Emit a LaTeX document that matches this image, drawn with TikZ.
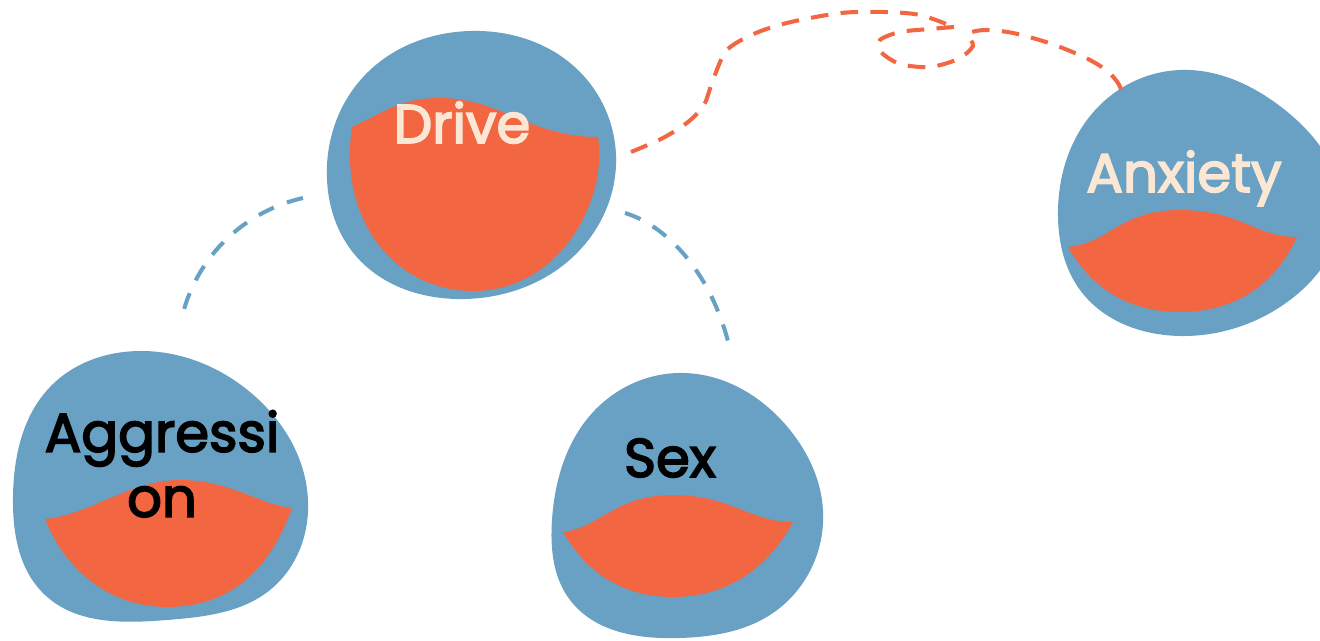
\documentclass[tikz,border=0pt]{standalone}
\usepackage{fontspec}
\setmainfont{Poppins}
\newfontfamily\wordfont{Poppins}[FakeBold=3]
\usetikzlibrary{hobby}
\definecolor{shellblue}{HTML}{68A1C3}
\definecolor{juice}{HTML}{F36642}
\definecolor{cream}{HTML}{FCE7D4}
\tikzset{
  shell/.style={fill=shellblue, use Hobby shortcut, closed=true},
  fluid/.style={fill=juice},
  word/.style={inner sep=0pt, font=\fontsize{31}{37}\wordfont},
  link/.style={draw=shellblue, line width=2.3pt, dash pattern=on 9.5pt off 8pt},
  wire/.style={draw=juice, line width=2.3pt, dash pattern=on 10pt off 7pt}
}
\begin{document}
\begin{tikzpicture}[x=0.02cm, y=-0.02cm]
      \useasboundingbox (0,0) rectangle (1320,641);
      % blobs
      \fill[shell] (327,180) .. (365,75) .. (470,31) .. (580,72) .. (616,165) .. (578,252) .. (465,299) .. (355,255);
      \fill[shell] (13,497) .. (50,387) .. (140,351) .. (250,392) .. (308,500) .. (270,590) .. (167,620) .. (45,595);
      \fill[shell] (552,520) .. (595,410) .. (683,373) .. (790,430) .. (823,510) .. (770,615) .. (680,638) .. (570,600);
      \fill[shell] (1058,217) .. (1100,105) .. (1180,70) .. (1285,110) .. (1342,210) .. (1290,300) .. (1180,336) .. (1080,290);
      % fluid
      \fill[fluid] (352,127) .. controls (385,112) and (400,98) .. (440,98) .. controls (500,98) and (530,137) .. (598,137) .. controls (608,200) and (560,291) .. (473,291) .. controls (395,291) and (338,220) .. (352,127) -- cycle;
      \fill[fluid] (45,519) .. controls (90,515) and (130,480) .. (180,480) .. controls (230,480) and (260,505) .. (292,508) .. controls (270,570) and (230,607) .. (167,607) .. controls (110,607) and (65,570) .. (45,519) -- cycle;
      \fill[fluid] (563,532) .. controls (600,528) and (615,495) .. (673,495) .. controls (730,495) and (750,522) .. (793,522) .. controls (770,565) and (730,597) .. (673,597) .. controls (620,597) and (585,570) .. (563,532) -- cycle;
      \fill[fluid] (1068,247) .. controls (1110,243) and (1120,210) .. (1180,210) .. controls (1240,210) and (1255,237) .. (1297,237) .. controls (1275,285) and (1235,312) .. (1180,312) .. controls (1125,312) and (1090,285) .. (1068,247) -- cycle;
      % labels
      \node[word, text=cream, anchor=base] (drive) at (462,143) {Drive};
      \node[word, text=cream, anchor=base] (anxiety) at (1184,192) {Anxiety};
      \node[word, anchor=base] (sex) at (670,477) {Sex};
      \node[word, align=center, anchor=north] (aggression) at (162,410) {Aggressi\\on};
      % ends of the links
      \coordinate (drive-w) at (303,198);
      \coordinate (drive-e) at (625,213);
      \coordinate (drive-ne) at (631,152);
      \coordinate (aggression-n) at (183,313);
      \coordinate (sex-n) at (729,345);
      \coordinate (anxiety-nw) at (1124,97);
      \draw[link] (drive-w) .. controls (250,210) and (200,250) .. (aggression-n);
      \draw[link] (drive-e) .. controls (665,225) and (710,270) .. (sex-n);
      \draw[wire] plot[smooth] coordinates {(drive-ne) (663,138) (688,122) (704,105) (713,80) (727,50) (756,33) (791,22) (841,13) (884,12) (920,15) (954,27)}
                  plot[smooth] coordinates {(954,27) (930,29) (900,32) (880,40) (881,52) (900,64) (930,67) (958,59) (973,46) (968,34) (985,30) (1013,33) (1049,43) (1084,57) (1106,70) (1118,83) (anxiety-nw)};
\end{tikzpicture}
\end{document}
